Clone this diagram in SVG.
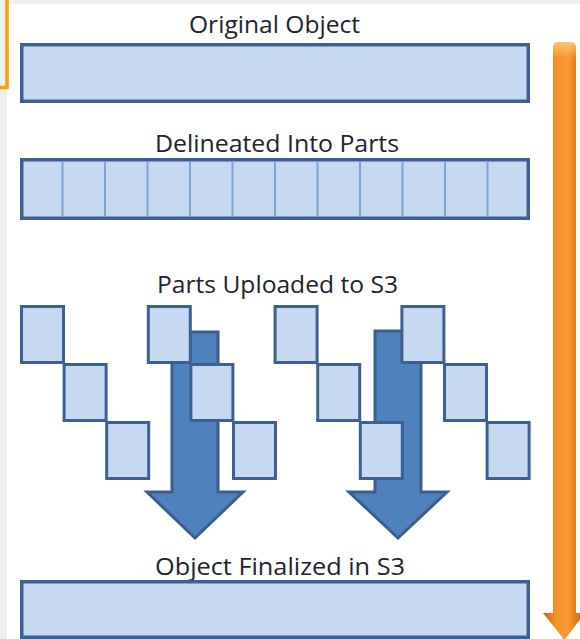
<svg xmlns="http://www.w3.org/2000/svg" width="580" height="639" viewBox="0 0 580 639">
  <defs>
    <linearGradient id="og" x1="0" y1="0" x2="1" y2="0">
      <stop offset="0" stop-color="#d0600b"/>
      <stop offset="0.3" stop-color="#f7922a"/>
      <stop offset="0.6" stop-color="#f99a34"/>
      <stop offset="1" stop-color="#c85a0a"/>
    </linearGradient>
    <linearGradient id="ogt" x1="0" y1="0" x2="0" y2="1">
      <stop offset="0" stop-color="#ffd080" stop-opacity="0.8"/>
      <stop offset="1" stop-color="#ffd080" stop-opacity="0"/>
    </linearGradient>
  </defs>
  <style>
    .lbl { font-family: "Open Sans", "Liberation Sans", sans-serif; font-size: 23.5px; fill: #20242a; text-anchor: middle; }
    .bar { fill: #c6d9f0; stroke: #3d6090; stroke-width: 3.5; }
    .div { stroke: #7ea4d4; stroke-width: 2; }
    .sq { fill: #c6d9f0; stroke: #3d6090; stroke-width: 3; }
    .barrow { fill: #4f81bd; stroke: #3a5f8e; stroke-width: 3; stroke-linejoin: miter; }
  </style>
  <rect x="0" y="0" width="580" height="639" fill="#ffffff"/>
  <rect x="0" y="0" width="580" height="4" fill="#eff1f1"/>
  <rect x="0" y="0" width="7" height="639" fill="#eff1f1"/>
  <polyline points="7,0 7,87.5 0,87.5" fill="none" stroke="#ff9c00" stroke-width="3.5"/>

  <g id="connectors">
    <polygon class="barrow" points="172,332 218,332 218,492 243,492 195,538 147,492 172,492"/>
    <polygon class="barrow" points="375,331 421,331 421,492 447,492 398,538 349,492 375,492"/>
    <g id="timeline-arrow">
      <path d="M553,48 Q553,42 559,42 L570,42 Q576,42 576,48 L576,613 L585,613 L564.5,640 L543,613 L553,613 Z" fill="url(#og)"/>
      <path d="M553,48 Q553,42 559,42 L570,42 Q576,42 576,48 L576,58 L553,58 Z" fill="url(#ogt)"/>
    </g>
  </g>

  <g id="original-object">
    <text class="lbl" x="274.5" y="33" textLength="171" lengthAdjust="spacingAndGlyphs">Original Object</text>
    <rect class="bar" x="21.75" y="44.75" width="506.5" height="56.5"/>
  </g>

  <g id="delineated-parts">
    <text class="lbl" x="277" y="152" textLength="244" lengthAdjust="spacingAndGlyphs">Delineated Into Parts</text>
    <rect class="bar" x="21.75" y="159.75" width="506.5" height="58.5"/>
    <g class="div">
      <line x1="62.5" y1="161.5" x2="62.5" y2="216.5"/>
      <line x1="105" y1="161.5" x2="105" y2="216.5"/>
      <line x1="147.5" y1="161.5" x2="147.5" y2="216.5"/>
      <line x1="190" y1="161.5" x2="190" y2="216.5"/>
      <line x1="232.5" y1="161.5" x2="232.5" y2="216.5"/>
      <line x1="275" y1="161.5" x2="275" y2="216.5"/>
      <line x1="317.5" y1="161.5" x2="317.5" y2="216.5"/>
      <line x1="360" y1="161.5" x2="360" y2="216.5"/>
      <line x1="402.5" y1="161.5" x2="402.5" y2="216.5"/>
      <line x1="445" y1="161.5" x2="445" y2="216.5"/>
      <line x1="487.5" y1="161.5" x2="487.5" y2="216.5"/>
    </g>
  </g>

  <g id="parts-uploaded">
    <text class="lbl" x="277.5" y="293" textLength="241" lengthAdjust="spacingAndGlyphs">Parts Uploaded to S3</text>
    <g id="group-1">
      <rect class="sq" x="21.5" y="306.5" width="42" height="56"/>
      <rect class="sq" x="64.1" y="364.5" width="42" height="56"/>
      <rect class="sq" x="106.7" y="422.5" width="42" height="56"/>
    </g>
    <g id="group-2">
      <rect class="sq" x="148.3" y="306.5" width="42" height="56"/>
      <rect class="sq" x="190.9" y="364.5" width="42" height="56"/>
      <rect class="sq" x="233.5" y="422.5" width="42" height="56"/>
    </g>
    <g id="group-3">
      <rect class="sq" x="275.1" y="306.5" width="42" height="56"/>
      <rect class="sq" x="317.7" y="364.5" width="42" height="56"/>
      <rect class="sq" x="360.3" y="422.5" width="42" height="56"/>
    </g>
    <g id="group-4">
      <rect class="sq" x="401.9" y="306.5" width="42" height="56"/>
      <rect class="sq" x="444.5" y="364.5" width="42" height="56"/>
      <rect class="sq" x="487.1" y="422.5" width="42" height="56"/>
    </g>
  </g>

  <g id="object-finalized">
    <text class="lbl" x="280" y="575" textLength="250" lengthAdjust="spacingAndGlyphs">Object Finalized in S3</text>
    <rect class="bar" x="21.75" y="581.75" width="506.5" height="55.5"/>
  </g>
</svg>
